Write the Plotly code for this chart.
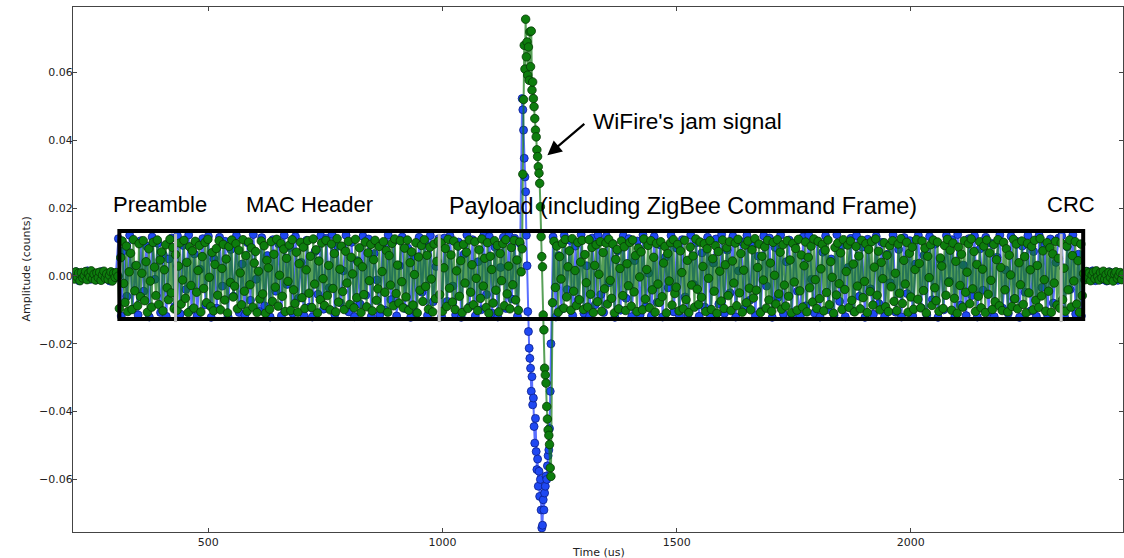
import plotly.graph_objects as go

# ---------------- data (amplitudes in units of 1e-4 counts) ----------------
DT_GREEN = 3.0    # us between plotted green samples in the frame
DT_BLUE = 6.0     # us between plotted blue samples in the frame
DT_JAM = 1.5      # us between plotted samples around the jam burst

# ---- green capture ----
g_lead_start = 211
g_lead = [4, -9, 12, -3, 8, -14, 10, -6, 1, 13, -11, 7, -2, 15, -8, 5, -12, 9, -5, 11,
          -13, 3, 14, -7, 6, -10, 2, 12, -15, 8, -4, 10, -1]
g_preamble_start = 310
g_preamble = [-96, 54, 103, -22, -78, 88, -105, 12, 67, -99, 107, -44, 31, -88, 95, -61, 8, 104, -73, 42,
              -107, 80, -15, -92, 99, 26, -58, 106, -84, 47, 71, -103, 18, 92, -35, -70, 108, -50, 84, -97]
g_mac_start = 430
g_mac = [63, -101, 29, 97, -83, -12, 105, -66, 40, -108, 86, -28, 74, -95, 102, -48, 16, 90, -106, 57,
         -37, 99, -79, 108, -4, -90, 69, -103, 34, 81, -57, 104, -100, 22, 93, -71, 50, -109, 87, -19,
         106, -62, -30, 95, -97, 76, 9, -85, 107, -45, 60, -104, 100, -26, 83, -92, 38, 72, -108, 14,
         -68, 103, -53, 89, -110, 46, 24, -98, 101, -75, 64, -33, 108, -89, 2, 96, -60, 79, -105, 52,
         -16, 91, -102, 107, -41, -81, 70, -107, 36, 99, -64, 85, -96, 18, 104, -51, 58, -93, 109, -24,
         77, -109, 44, -70, 97, -8, -87, 105, -58, 31, -100, 94, -37, 66, -106, 110, -77, 20, 88, -46,
         -99, 73, -21, 102, -84, 55, 6, -94, 108, -64, 41, 83, -108, 27, -55, 100, -91, 68, -14, 93,
         -103, 48, 105, -72, -38, 87, -97, 13, 101, -48, 75, -107, 60, -27, 96, -88, 109, -52, 32, -80,
         104, -17, -94, 82, -62, 106, -101, 39, 71, -86, 4, 98, -109, 56, -42, 90, -75, 107, -31, 61,
         -98, 85, -9, -106, 94, -67, 43, 102]
g_payload_a_start = 994
g_payload_a = [-55, 97, -104, 24, 81, -90, 108, -36, 62, -77, 103, -99, 15, 88, -60, 45, -108, 93, -21, 70,
               -96, 106, -48, 33, -85, 101, -7, -102, 77, -66, 109, -30, 52, -93, 98, -110, 58, 19, -80, 104,
               -42, 90, -106, 66, -14, 95, -88, 107, -53, 29, -97, 84, -26, 105, -71, 47, -101, 100, 12]
g_jam_start = 1170
g_jam = [80, 300, 520, 680, 610, 757, 646, 690, 592, 675, 577, 720, 617, 722,
         548, 572, 523, 499, 464, 430, 410, 372, 352, 322, 303, 273, 204, 116,
         57, 27, -115, -159, -272, -292, -316, -385, -422, -454, -470, -497,
         -566, -591]
g_payload_b_start = 1235
g_payload_b = [-79, 102, -34, 88, -107, 57, -9, 96, -95, 108, -62, 27, 74, -101, 110, -45, 16, -87, 99, -70,
               41, 105, -99, 63, -20, -92, 107, -54, 84, -108, 31, 92, -76, 5, 101, -104, 69, -38, 97, -83,
               108, -13, -66, 94, -109, 49, 78, -97, 22, 103, -58, 86, -102, 36, -29, 99, -89, 106, -47, 60,
               -105, 82, -3, 71, -100, 109, -68, 19, 90, -94, 104, -41, 55, -107, 96, -24, -78, 101, -61, 38,
               87, -109, 66, -15, 98, -86, 107, -52, -33, 93, -103, 74, 10, -97, 105, -70, 46, -108, 85, -27,
               59, -92, 109, -39, -84, 100, -63, 28, 95, -105, 80, -7, 104, -99, 51, -45, 89, -110, 72, 14,
               -74, 106, -96, 33, 83, -58, 101, -102, 44, -21, 97, -88, 108, -50, 66, -107, 17, 91, -79, 103,
               -36, -100, 77, -65, 110, -42, 25, 94, -108, 58, -12, 86, -95, 105, -71, 38, -104, 99, 2, -83,
               107, -53, 70, -98, 92, -27, -89, 104, -60, 47, -109, 96, -18, 81, -101, 108, -44, 62, -92, 30,
               100, -106, 55, -35, 88, -77, 109, -11, -96, 102, -67, 21, 93, -103, 76, -49, 106, -85, 42, -4,
               -110, 84, -56, 97, -23, 68, -99, 107, -40, 13, 91, -93, 103, -72, 35, -106, 87, -30, 59, -97,
               105, -64, -16, 95, -108, 78, -46, 101, -86, 26, 109, -57, 73, -100, 40, -8, 98, -91, 61, -105,
               89, -32, 104, -75, 8, -102, 94, -51, 110, -81, 46, -24, 99, -107, 67, -62, 85, -98, 19, 107,
               -69, 37, -94, 103, -43, 82, -109, 58, -5, 92, -87, 106, -35, -73, 100, -104, 53, 29, -96, 90,
               -57, 108, -19, 76, -101, 97, -66, 43, -110, 85, -28, 64, -92, 104, -48, 11, 95, -82, 109, -38,
               72, -105, 34, -60, 101, -94, 20, 88, -108, 106, -54, 68, -13, -99, 93, -76, 48, 107, -88, 25,
               -102, 99, -41, 80, -106, 61, 3, -90, 108, -67, 94, -97, 39, -26, 103, -84, 57, -109, 96, -50,
               18, 87, -100, 105, -72, 31, -93, 110, -59, 74, -11, -104, 98, -45, 83, -107, 65, -21, 102, -86,
               52, -95]
g_crc_start = 2321
g_crc = [97, -70, 23, -104, 88, -41, 106, -92, 60, -15, 101, -83, 45, -107, 94, -58]
g_tail_start = 2369
g_tail = [7, -11, 13, -5, 9, -14, 3, 12, -8, 15, -2, -12, 10, -6, 14, -9, 4, -13, 11, -4,
          8, -15, 6, 12, -7, 1, 10, -11, 5]

# ---- blue capture ----
b_lead_start = 212
b_lead = [-6, 12, -14, 8, -3, 15, -10, 4, -12, 7, 13, -9, 1, -15, 10, -5]
b_preamble_start = 308
b_preamble = [110, -118, 75, -60, 120, -98, 30, -115, 104, -45, 88, -121, 115, -10,
              96, -108, 62, -119, 50, 112, -90]
b_mac_start = 434
b_mac = [118, -112, 90, -40, 121, -100, 65, -119, 20, 110, -85, 117,
         -122, 50, -95, 114, -30, 102, -120, 78, -60, 119, -108, 35,
         -116, 98, -72, 122, -10, -104, 113, -88, 60, -121, 107, -45,
         95, -118, 120, -25, 84, -110, 116, -66, 40, -117, 105, -92,
         -121, 72, -54, 118, -98, 111, -35, 123, -114, 88, -79, 15,
         120, -106, 99, -120, 45, -83, 117, -57, 109, -119, 66, -12,
         -115, 93, -101, 121, -70, 103, -118, 30, 115, -96, 82, -122,
         58, -109, 114, -48, 100, -117, 119, -76, 28, 110]
b_payload_a_start = 998
b_payload_a = [-120, 112, -75, 118, -30, -115, 100, -122, 64, 121,
               -90, 107, -118, 42, -100, 119, -55, 116, -110, 85,
               -121, 25, 114, -96, 120, -68, 111, -119, 95]
b_jam_start = 1170
b_jam = [523, 490, 430, 347, 292, 248, 120, 30, -105, -164, -213, -243, -272,
         -340, -297, -380, -360, -444, -493, -420, -518, -571, -540, -620, -576,
         -650, -600, -690, -743, -735, -660, -690, -640, -620, -590, -600, -560,
         -530, -513, -450, -340, -200]
b_payload_b_start = 1236
b_payload_b = [115, -121, 60, -98, 119, -40, 105, -117, 88, -70, 122, -110,
               30, -119, 112, -85, 120, -55, -108, 117, -20, 96, -122, 74,
               -101, 118, -66, 110, -120, 45, 103, -115, 121, -90, 8, -118,
               116, -78, 92, -121, 55, -35, 119, -106, 82, -118, 107, -62,
               -114, 121, -25, 98, -119, 68, -92, 114, -120, 38, 109, -83,
               122, -110, 76, -50, 117, -121, 15, 101, -97, 120, -72, 88,
               -117, 58, -104, 118, -30, 112, -122, 84, -64, 121, -112, 42,
               106, -120, 95, -45, -118, 115, -88, 120, -10, -109, 103, -121,
               70, 118, -99, 50, -116, 122, -75, 90, -120, 25, 111, -105,
               119, -60, 85, -122, 108, -38, -113, 117, -82, 99, -119, 64,
               -20, 121, -107, 78, -121, 113, -52, 104, -118, 35, 120, -94,
               61, -115, 116, -70, 94, -122, 47, -100, 119, -15, 107, -119,
               122, -86, 32, -117, 110, -58, 118, -121, 80, -42, 114, -108,
               96, -120, 55, 121, -95, 18, -111, 117, -68, 102, -122, 88,
               -48, 119, -103, 72, -119, 120, -34, 91, -116, 109, -80, 40,
               112]
b_crc_start = 2322
b_crc = [118, -120, 86, -40, 121, -112, 64, -118]
b_tail_start = 2370
b_tail = [-10, 13, -5, 15, -14, 7, -11, 3, -15, 12, -2, 9, -13, 6]

# frame structure (us): box edges and section boundaries
frame_box = [310, 2368]
frame_amp = [-0.0127, 0.01325]
section_edges = [430, 993, 2321]
section_labels = ["Preamble", "MAC Header", "Payload (including ZigBee Command Frame)", "CRC"]
section_label_x = [397, 716, 1513, 2341]
section_label_y = [0.0212, 0.0212, 0.0205, 0.0212]
section_label_size = [22, 22, 23.4, 22]

x_range = [211, 2453]
y_range = [-0.0755, 0.0793]
x_ticks = [500, 1000, 1500, 2000]
y_ticks = [0.06, 0.04, 0.02, 0.0, -0.02, -0.04, -0.06]


def assemble(segs):
    xs, ys = [], []
    for start, dt, vals in segs:
        xs += [start + dt * i for i in range(len(vals))]
        ys += [v * 1e-4 for v in vals]
    return xs, ys


gx, gy = assemble([
    (g_lead_start, DT_GREEN, g_lead), (g_preamble_start, DT_GREEN, g_preamble),
    (g_mac_start, DT_GREEN, g_mac), (g_payload_a_start, DT_GREEN, g_payload_a),
    (g_jam_start, DT_JAM, g_jam), (g_payload_b_start, DT_GREEN, g_payload_b),
    (g_crc_start, DT_GREEN, g_crc), (g_tail_start, DT_GREEN, g_tail)])
bx, by = assemble([
    (b_lead_start, DT_BLUE, b_lead), (b_preamble_start, DT_BLUE, b_preamble),
    (b_mac_start, DT_BLUE, b_mac), (b_payload_a_start, DT_BLUE, b_payload_a),
    (b_jam_start, DT_JAM, b_jam), (b_payload_b_start, DT_BLUE, b_payload_b),
    (b_crc_start, DT_BLUE, b_crc), (b_tail_start, DT_BLUE, b_tail)])

fig = go.Figure()
fig.add_trace(go.Scatter(
    x=bx, y=by, mode="lines+markers",
    line=dict(color="rgba(20,50,255,0.7)", width=2.0),
    marker=dict(size=8, color="#1f48f2", line=dict(color="#0b1f8a", width=0.8)),
    hoverinfo="skip"))
fig.add_trace(go.Scatter(
    x=gx, y=gy, mode="lines+markers",
    line=dict(color="rgba(15,120,15,0.7)", width=2.0),
    marker=dict(size=8.5, color="#0d7d0d", line=dict(color="#063806", width=0.8)),
    hoverinfo="skip"))

shapes = [dict(type="rect", xref="x", yref="y", x0=frame_box[0], x1=frame_box[1],
               y0=frame_amp[0], y1=frame_amp[1], line=dict(color="black", width=4),
               fillcolor="rgba(0,0,0,0)", layer="above")]
for e in section_edges:
    shapes.append(dict(type="line", xref="x", yref="y", x0=e, x1=e,
                       y0=frame_amp[0] - 0.0009, y1=frame_amp[1] - 0.0008,
                       line=dict(color="#bdbdbd", width=3), layer="above"))

annotations = []
for txt, lx, ly, fs in zip(section_labels, section_label_x, section_label_y, section_label_size):
    annotations.append(dict(x=lx, y=ly, xref="x", yref="y", text=txt, showarrow=False,
                            xanchor="center", yanchor="middle",
                            font=dict(family="Liberation Sans, Arial, sans-serif", size=fs,
                                      color="black")))
annotations.append(dict(x=1318, y=0.0455, xref="x", yref="y", text="WiFire's jam signal",
                        showarrow=False, xanchor="left", yanchor="middle",
                        font=dict(family="Liberation Sans, Arial, sans-serif", size=22.6,
                                  color="black")))
annotations.append(dict(x=1224, y=0.0356, xref="x", yref="y", ax=1306, ay=0.0452,
                        axref="x", ayref="y", text="", showarrow=True, arrowhead=2,
                        arrowsize=1.3, arrowwidth=2.2, arrowcolor="black"))
axis_font = dict(family="DejaVu Sans, sans-serif", size=11, color="#222")
annotations.append(dict(x=0.5, y=0, xref="paper", yref="paper", text="Time (us)",
                        showarrow=False, xanchor="center", yanchor="top", yshift=-12,
                        font=axis_font))
annotations.append(dict(x=0, y=0.5, xref="paper", yref="paper", text="Amplitude (counts)",
                        showarrow=False, textangle=-90, xanchor="center", yanchor="middle",
                        xshift=-47, font=axis_font))

fig.update_layout(
    width=1124, height=558,
    margin=dict(l=73, r=1, t=7, b=26),
    paper_bgcolor="white", plot_bgcolor="white",
    showlegend=False,
    shapes=shapes, annotations=annotations,
    font=axis_font,
)
fig.update_xaxes(range=x_range, tickvals=x_ticks, ticks="inside", ticklen=4,
                 tickcolor="#444", showline=True, linecolor="#444", linewidth=1,
                 mirror="ticks", showgrid=False, zeroline=False,
                 tickfont=axis_font)
fig.update_yaxes(range=y_range, tickvals=y_ticks, tickformat=".2f", ticks="inside",
                 ticklen=4, tickcolor="#444", showline=True, linecolor="#444",
                 linewidth=1, mirror="ticks", showgrid=False, zeroline=False,
                 tickfont=axis_font, ticklabelstandoff=-3)

fig.write_html("out.html", config={"displayModeBar": False},
               post_script="document.body.style.margin='0px';")
